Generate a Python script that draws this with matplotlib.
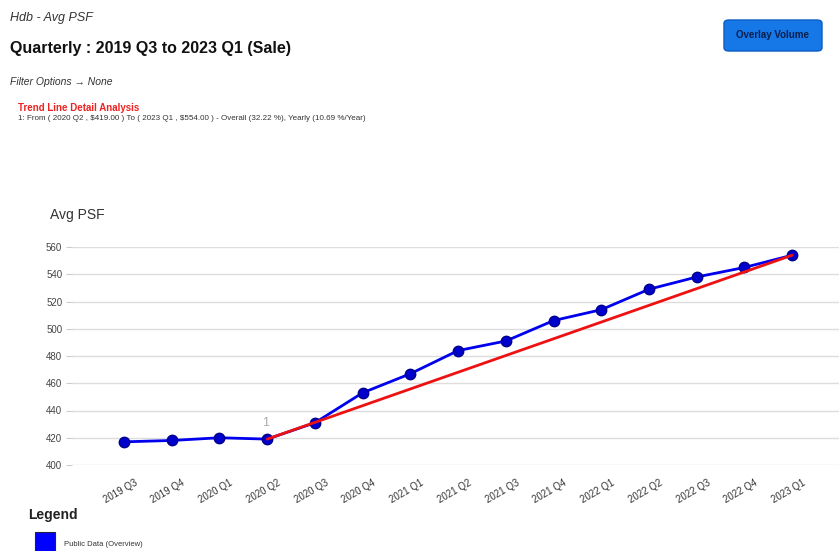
import matplotlib
matplotlib.use("Agg")
import matplotlib.pyplot as plt
import matplotlib.transforms as mtransforms
from matplotlib.patches import FancyBboxPatch, Rectangle

plt.rcParams['font.family'] = ['Liberation Sans', 'DejaVu Sans']

quarters = ["2019 Q3", "2019 Q4", "2020 Q1", "2020 Q2", "2020 Q3", "2020 Q4",
            "2021 Q1", "2021 Q2", "2021 Q3", "2021 Q4", "2022 Q1", "2022 Q2",
            "2022 Q3", "2022 Q4", "2023 Q1"]
avg_psf = [417, 418, 420, 419, 431, 453, 467, 484, 491, 506, 514, 529, 538, 545, 554]
trend_start = ("2020 Q2", 419)
trend_end = ("2023 Q1", 554)
yticks = [400, 420, 440, 460, 480, 500, 520, 540, 560]

W, H = 839, 551
fig = plt.figure(figsize=(W / 100, H / 100), dpi=100)
fig.patch.set_facecolor("white")

def fx(px):
    return px / W

def fy(py):
    return 1 - py / H

# Header texts
fig.text(fx(10), fy(18), "Hdb - Avg PSF", fontsize=9, style="italic", color="#333333", va="center")
fig.text(fx(10), fy(48), "Quarterly : 2019 Q3 to 2023 Q1 (Sale)", fontsize=11.5, weight="bold", color="#111111", va="center")
fig.text(fx(10), fy(82), "Filter Options \u2192 None", fontsize=7.5, style="italic", color="#333333", va="center")
fig.text(fx(18), fy(108), "Trend Line Detail Analysis", fontsize=7, weight="bold", color="#ee2222", va="center")
fig.text(fx(18), fy(118),
         "1: From ( 2020 Q2 , \\$419.00 ) To ( 2023 Q1 , \\$554.00 ) - Overall (32.22 %), Yearly (10.69 %/Year)",
         fontsize=5.8, color="#333333", va="center")

# Button
btn = FancyBboxPatch((fx(724), fy(51)), fx(98), 31 / H,
                     boxstyle="round,pad=0,rounding_size=0.006",
                     transform=fig.transFigure, facecolor="#1677e6",
                     edgecolor="#0b5cc4", linewidth=1.0)
fig.patches.append(btn)
fig.text(fx(773), fy(35.5), "Overlay Volume", fontsize=7, weight="bold", color="#0a1f4d",
         ha="center", va="center")

# Axes
left, right, top, bottom = 72, 839, 247, 465
ax = fig.add_axes([fx(left), fy(bottom), fx(right - left), (bottom - top) / H])
x = list(range(len(quarters)))
ax.set_xlim(-1.09, 14.98)
ax.set_ylim(400, 560)
ax.set_yticks(yticks)
ax.set_yticklabels([str(v) for v in yticks], fontsize=7, color="#444444")
ax.grid(axis="y", color="#dddddd", linewidth=1)
ax.set_axisbelow(True)
for s in ax.spines.values():
    s.set_visible(False)
ax.tick_params(axis="y", length=4, color="#cccccc", pad=3)
ax.tick_params(axis="x", length=0, pad=9)
ax.set_xticks(x)
ax.set_xticklabels(quarters, rotation=30, ha="right", va="top", rotation_mode="anchor",
                   fontsize=7, color="#333333")
shift = mtransforms.ScaledTranslation(10 / 100, 0, fig.dpi_scale_trans)
for lbl in ax.get_xticklabels():
    lbl.set_transform(lbl.get_transform() + shift)

ax.plot(x, avg_psf, color="#0000ee", linewidth=2, marker="o", markersize=7.5,
        markerfacecolor="#0000cc", markeredgecolor="#00008b", markeredgewidth=1,
        clip_on=False, zorder=3)
i0 = quarters.index(trend_start[0])
i1 = quarters.index(trend_end[0])
ax.plot([i0, i1], [trend_start[1], trend_end[1]], color="#ee1111", linewidth=2, zorder=4,
        clip_on=False, solid_capstyle="round")
ax.annotate("1", (i0, trend_start[1]), xytext=(-1, 7), textcoords="offset points",
            ha="center", va="bottom", fontsize=9, color="#aaaaaa")

fig.text(fx(50), fy(215), "Avg PSF", fontsize=10, color="#333333", va="center")

# Legend
fig.text(fx(28), fy(515), "Legend", fontsize=10, weight="bold", color="#222222", va="center")
fig.patches.append(Rectangle((fx(35), fy(552)), fx(20), 20 / H, transform=fig.transFigure,
                             facecolor="#0000ff", edgecolor="#222244", linewidth=0.8))
fig.text(fx(64), fy(545), "Public Data (Overview)", fontsize=5.5, color="#333333", va="center")

fig.savefig("out.png", dpi=100)
